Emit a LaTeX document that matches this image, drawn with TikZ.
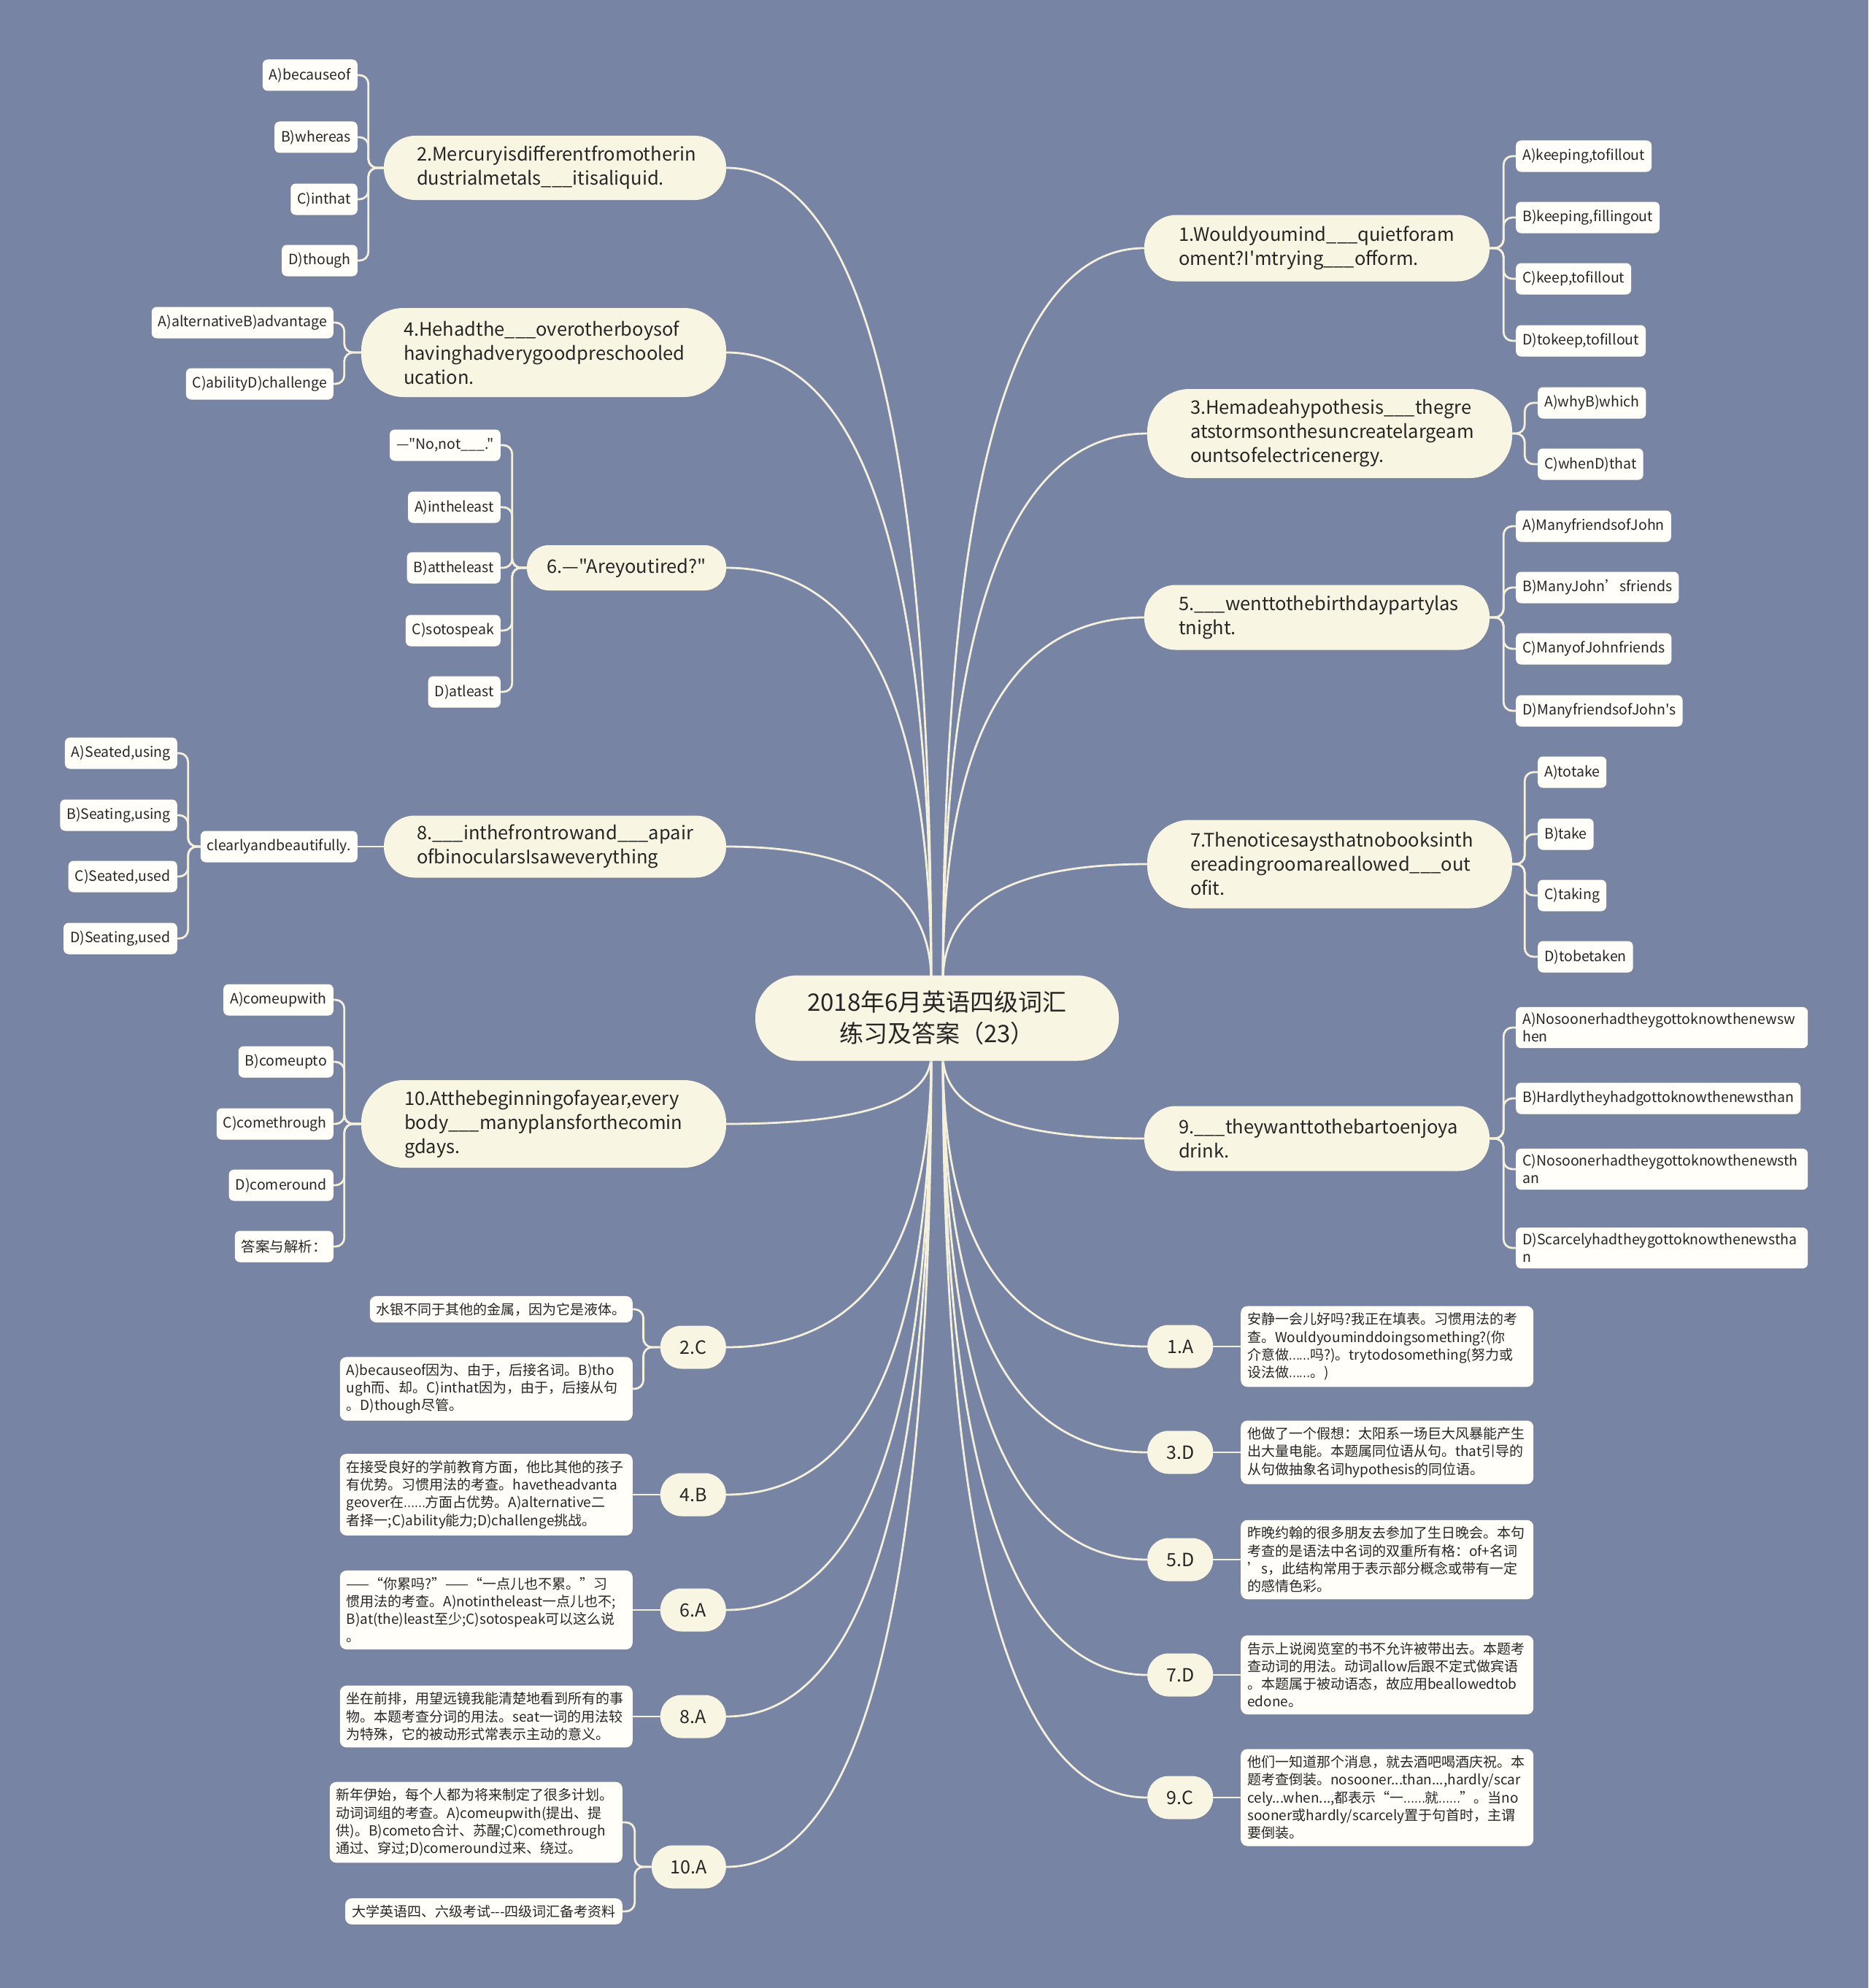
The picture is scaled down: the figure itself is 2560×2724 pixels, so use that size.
\documentclass[tikz,border=0pt]{standalone}
\usepackage{fontspec}
\usepackage{graphicx}
\newfontfamily\zh{Noto Sans CJK SC}
\newcommand\elp{\scalebox{0.72}[1]{……}}
\usetikzlibrary{calc,backgrounds,shadows}
\hyphenpenalty=10000
\exhyphenpenalty=10000
\definecolor{bgc}{HTML}{7884A4}
\definecolor{linec}{HTML}{F4F0DC}
\definecolor{pillc}{HTML}{F9F5E3}
\definecolor{leafc}{HTML}{FFFEF8}
\definecolor{txtc}{HTML}{262626}
\tikzset{
  conn/.style={draw=linec, line width=2.8pt},
  shad/.style={drop shadow={shadow xshift=0pt, shadow yshift=-2pt, opacity=0.22}},
  rootn/.style={fill=pillc, minimum width=498pt, minimum height=117pt, rounded corners=57pt,
     align=center, font=\zh\fontsize{33}{43}\selectfont, text=txtc, shad},
  qn/.style n args={4}{fill=pillc, text width=#1pt, inner xsep=#2pt, inner ysep=0pt,
     minimum height=#3pt, rounded corners=#4pt, align=left,
     font=\zh\fontsize{25.5}{33}\selectfont, text=txtc, shad},
  qsix/.style={fill=pillc, minimum width=273pt, minimum height=62pt, rounded corners=30pt,
     inner xsep=0pt, font=\zh\fontsize{25.5}{33}\selectfont, text=txtc, shad},
  ans/.style={fill=pillc, minimum width=90pt, minimum height=59pt, rounded corners=29pt,
     inner xsep=26pt, font=\zh\fontsize{25}{30}\selectfont, text=txtc, shad},
  leaf/.style={fill=leafc, rounded corners=7pt, minimum height=43pt, inner xsep=9pt, inner ysep=2pt,
     font=\zh\fontsize{19.5}{24}\selectfont, text=txtc, shad},
  leafw/.style={leaf, text width=382pt, align=left, inner ysep=8pt},
  expl/.style={fill=leafc, rounded corners=9pt, inner xsep=9pt, inner ysep=9pt, align=left,
     font=\zh\fontsize{19}{24.3}\selectfont, text=txtc, shad},
  explw/.style={expl, text width=383pt},
}
\newcommand\rlink[2]{\draw[conn] (#1) .. controls ($(#1)!0.667!(#1|-#2)$) and ($(#2)!0.667!(#1|-#2)$) .. (#2);}
\newcommand\lbr[3]{\draw[conn, rounded corners=12pt] (#1.west) -- ++(-#3,0) |- (#2.east);}
\newcommand\rbr[3]{\draw[conn, rounded corners=12pt] (#1.east) -- ++(#3,0) |- (#2.west);}
\begin{document}
\begin{tikzpicture}[x=1pt, y=-1pt]
\useasboundingbox (0,0) rectangle (2560,2724);
% root
\node[rootn] (root) at (1284,1395) {2018年6月英语四级词汇\\练习及答案（23）};
\coordinate (rtl) at (1276,1345);
\coordinate (rtr) at (1292,1345);
\coordinate (rbl) at (1276,1445);
\coordinate (rbr) at (1292,1445);
% left questions
\node[qn={379}{45}{88}{43}] (q2) at (760.5,230) {2.Mercuryisdifferentfromotherin\\dustrialmetals\_\_\_itisaliquid.};
\node[qn={384}{58}{122}{58}] (q4) at (745,483) {4.Hehadthe\_\_\_overotherboysof\\havinghadverygoodpreschooled\\ucation.};
\node[qsix] (q6) at (858.5,778) {6.—"Areyoutired?"};
\node[qn={379}{45}{85}{42}] (q8) at (760.5,1160) {8.\_\_\_inthefrontrowand\_\_\_apair\\ofbinocularsIsaweverything};
\node[qn={382}{59}{120}{58}] (q10) at (745,1540) {10.Atthebeginningofayear,every\\body\_\_\_manyplansforthecomin\\gdays.};
% right questions
\node[qn={379}{47}{91}{44}] (q1) at (1804.5,340) {1.Wouldyoumind\_\_\_quietforam\\oment?I'mtrying\_\_\_ofform.};
\node[qn={382}{59}{122}{58}] (q3) at (1822,594) {3.Hemadeahypothesis\_\_\_thegre\\atstormsonthesuncreatelargeam\\ountsofelectricenergy.};
\node[qn={379}{47}{89}{43}] (q5) at (1804.5,846) {5.\_\_\_wenttothebirthdaypartylas\\tnight.};
\node[qn={382}{59}{121}{58}] (q7) at (1822,1184) {7.Thenoticesaysthatnobooksinth\\ereadingroomareallowed\_\_\_out\\ofit.};
\node[qn={379}{47}{89}{43}] (q9) at (1804.5,1560) {9.\_\_\_theywanttothebartoenjoya\\drink.};
% Q2 options
\node[leaf, anchor=east] (o2a) at (490,103) {A)becauseof};
\node[leaf, anchor=east] (o2b) at (490,188) {B)whereas};
\node[leaf, anchor=east] (o2c) at (490,273) {C)inthat};
\node[leaf, anchor=east] (o2d) at (490,357) {D)though};
% Q4 options
\node[leaf, anchor=east] (o4a) at (457,442) {A)alternativeB)advantage};
\node[leaf, anchor=east] (o4b) at (457,526) {C)abilityD)challenge};
% Q6 options
\node[leaf, anchor=east] (o6a) at (686,610) {—"No,not\_\_\_."};
\node[leaf, anchor=east] (o6b) at (686,695) {A)intheleast};
\node[leaf, anchor=east] (o6c) at (686,778) {B)attheleast};
\node[leaf, anchor=east] (o6d) at (686,864) {C)sotospeak};
\node[leaf, anchor=east] (o6e) at (686,948) {D)atleast};
% Q8
\node[leaf, anchor=east] (clr) at (490,1160) {clearlyandbeautifully.};
\node[leaf, anchor=east] (o8a) at (243,1032) {A)Seated,using};
\node[leaf, anchor=east] (o8b) at (243,1117) {B)Seating,using};
\node[leaf, anchor=east] (o8c) at (243,1201) {C)Seated,used};
\node[leaf, anchor=east] (o8d) at (243,1286) {D)Seating,used};
% Q10 options
\node[leaf, anchor=east] (o10a) at (457,1370) {A)comeupwith};
\node[leaf, anchor=east] (o10b) at (457,1455) {B)comeupto};
\node[leaf, anchor=east] (o10c) at (457,1540) {C)comethrough};
\node[leaf, anchor=east] (o10d) at (457,1624) {D)comeround};
\node[leaf, anchor=east] (o10e) at (457,1708) {答案与解析：};
% Q1 options
\node[leaf, anchor=west] (o1a) at (2077,214) {A)keeping,tofillout};
\node[leaf, anchor=west] (o1b) at (2077,298) {B)keeping,fillingout};
\node[leaf, anchor=west] (o1c) at (2077,382) {C)keep,tofillout};
\node[leaf, anchor=west] (o1d) at (2077,467) {D)tokeep,tofillout};
% Q3 options
\node[leaf, anchor=west] (o3a) at (2107,552) {A)whyB)which};
\node[leaf, anchor=west] (o3b) at (2107,636) {C)whenD)that};
% Q5 options
\node[leaf, anchor=west] (o5a) at (2077,721) {A)ManyfriendsofJohn};
\node[leaf, anchor=west] (o5b) at (2077,805) {B)ManyJohn’sfriends};
\node[leaf, anchor=west] (o5c) at (2077,889) {C)ManyofJohnfriends};
\node[leaf, anchor=west] (o5d) at (2077,974) {D)ManyfriendsofJohn's};
% Q7 options
\node[leaf, anchor=west] (o7a) at (2107,1058) {A)totake};
\node[leaf, anchor=west] (o7b) at (2107,1143) {B)take};
\node[leaf, anchor=west] (o7c) at (2107,1227) {C)taking};
\node[leaf, anchor=west] (o7d) at (2107,1311) {D)tobetaken};
% Q9 options
\node[leafw, anchor=west] (o9a) at (2077,1408) {A)Nosoonerhadtheygottoknowthenewsw\\hen};
\node[leaf, anchor=west] (o9b) at (2077,1505) {B)Hardlytheyhadgottoknowthenewsthan};
\node[leafw, anchor=west] (o9c) at (2077,1602) {C)Nosoonerhadtheygottoknowthenewsth\\an};
\node[leafw, anchor=west] (o9d) at (2077,1710) {D)Scarcelyhadtheygottoknowthenewstha\\n};
% answers left
\node[ans, anchor=east] (a2) at (995,1846) {2.C};
\node[ans, anchor=east] (a4) at (995,2048) {4.B};
\node[ans, anchor=east] (a6) at (995,2206) {6.A};
\node[ans, anchor=east] (a8) at (995,2352) {8.A};
\node[ans, anchor=east] (a10) at (995,2558) {10.A};
% answers right
\node[ans, anchor=west] (a1) at (1572,1845) {1.A};
\node[ans, anchor=west] (a3) at (1572,1990) {3.D};
\node[ans, anchor=west] (a5) at (1572,2137) {5.D};
\node[ans, anchor=west] (a7) at (1572,2295) {7.D};
\node[ans, anchor=west] (a9) at (1572,2463) {9.C};
% explanations left
\node[expl, anchor=east] (e2a) at (867,1794) {水银不同于其他的金属，因为它是液体。};
\node[explw, anchor=east] (e2b) at (867,1903) {A)becauseof因为、由于，后接名词。B)tho\\ugh而、却。C)inthat因为，由于，后接从句\\。D)though尽管。};
\node[explw, anchor=east] (e4) at (867,2048) {在接受良好的学前教育方面，他比其他的孩子\\有优势。习惯用法的考查。havetheadvanta\\geover在\elp 方面占优势。A)alternative二\\者择一;C)ability能力;D)challenge挑战。};
\node[explw, anchor=east] (e6) at (867,2206) {——“你累吗?”——“一点儿也不累。”习\\惯用法的考查。A)notintheleast一点儿也不;\\B)at(the)least至少;C)sotospeak可以这么说\\。};
\node[explw, anchor=east] (e8) at (867,2352) {坐在前排，用望远镜我能清楚地看到所有的事\\物。本题考查分词的用法。seat一词的用法较\\为特殊，它的被动形式常表示主动的意义。};
\node[explw, anchor=east] (e10a) at (853,2497) {新年伊始，每个人都为将来制定了很多计划。\\动词词组的考查。A)comeupwith(提出、提\\供)。B)cometo合计、苏醒;C)comethrough\\通过、穿过;D)comeround过来、绕过。};
\node[expl, anchor=east] (e10b) at (853,2619) {大学英语四、六级考试---四级词汇备考资料};
% explanations right
\node[explw, anchor=west] (e1) at (1700,1845) {安静一会儿好吗?我正在填表。习惯用法的考\\查。Wouldyouminddoingsomething?(你\\介意做\elp 吗?)。trytodosomething(努力或\\设法做\elp 。)};
\node[explw, anchor=west] (e3) at (1700,1990) {他做了一个假想：太阳系一场巨大风暴能产生\\出大量电能。本题属同位语从句。that引导的\\从句做抽象名词hypothesis的同位语。};
\node[explw, anchor=west] (e5) at (1700,2137) {昨晚约翰的很多朋友去参加了生日晚会。本句\\考查的是语法中名词的双重所有格：of+名词\\’s，此结构常用于表示部分概念或带有一定\\的感情色彩。};
\node[explw, anchor=west] (e7) at (1700,2295) {告示上说阅览室的书不允许被带出去。本题考\\查动词的用法。动词allow后跟不定式做宾语\\。本题属于被动语态，故应用beallowedtob\\edone。};
\node[explw, anchor=west] (e9) at (1700,2463) {他们一知道那个消息，就去酒吧喝酒庆祝。本\\题考查倒装。nosooner...than...,hardly/scar\\cely...when...,都表示“一\elp 就\elp ”。当no\\sooner或hardly/scarcely置于句首时，主谓\\要倒装。};
% connectors
\begin{pgfonlayer}{background}
\fill[bgc] (0,0) rectangle (2560,2724);
\foreach \n in {q2,q4,q6,q8} {\rlink{rtl}{\n.east}}
\foreach \n in {q10,a2,a4,a6,a8,a10} {\rlink{rbl}{\n.east}}
\foreach \n in {q1,q3,q5,q7} {\rlink{rtr}{\n.west}}
\foreach \n in {q9,a1,a3,a5,a7,a9} {\rlink{rbr}{\n.west}}
\foreach \o in {o2a,o2b,o2c,o2d} {\lbr{q2}{\o}{21}}
\foreach \o in {o4a,o4b} {\lbr{q4}{\o}{23}}
\foreach \o in {o6a,o6b,o6c,o6d,o6e} {\lbr{q6}{\o}{20}}
\draw[conn] (q8.west) -- (clr.east);
\foreach \o in {o8a,o8b,o8c,o8d} {\lbr{clr}{\o}{17}}
\foreach \o in {o10a,o10b,o10c,o10d,o10e} {\lbr{q10}{\o}{23}}
\foreach \o in {o1a,o1b,o1c,o1d} {\rbr{q1}{\o}{19}}
\foreach \o in {o3a,o3b} {\rbr{q3}{\o}{17}}
\foreach \o in {o5a,o5b,o5c,o5d} {\rbr{q5}{\o}{19}}
\foreach \o in {o7a,o7b,o7c,o7d} {\rbr{q7}{\o}{17}}
\foreach \o in {o9a,o9b,o9c,o9d} {\rbr{q9}{\o}{19}}
\foreach \o in {e2a,e2b} {\lbr{a2}{\o}{23}}
\foreach \o in {e10a,e10b} {\lbr{a10}{\o}{23}}
\draw[conn] (a4.west) -- (e4.east);
\draw[conn] (a6.west) -- (e6.east);
\draw[conn] (a8.west) -- (e8.east);
\draw[conn] (a1.east) -- (e1.west);
\draw[conn] (a3.east) -- (e3.west);
\draw[conn] (a5.east) -- (e5.west);
\draw[conn] (a7.east) -- (e7.west);
\draw[conn] (a9.east) -- (e9.west);
\end{pgfonlayer}
\end{tikzpicture}
\end{document}
